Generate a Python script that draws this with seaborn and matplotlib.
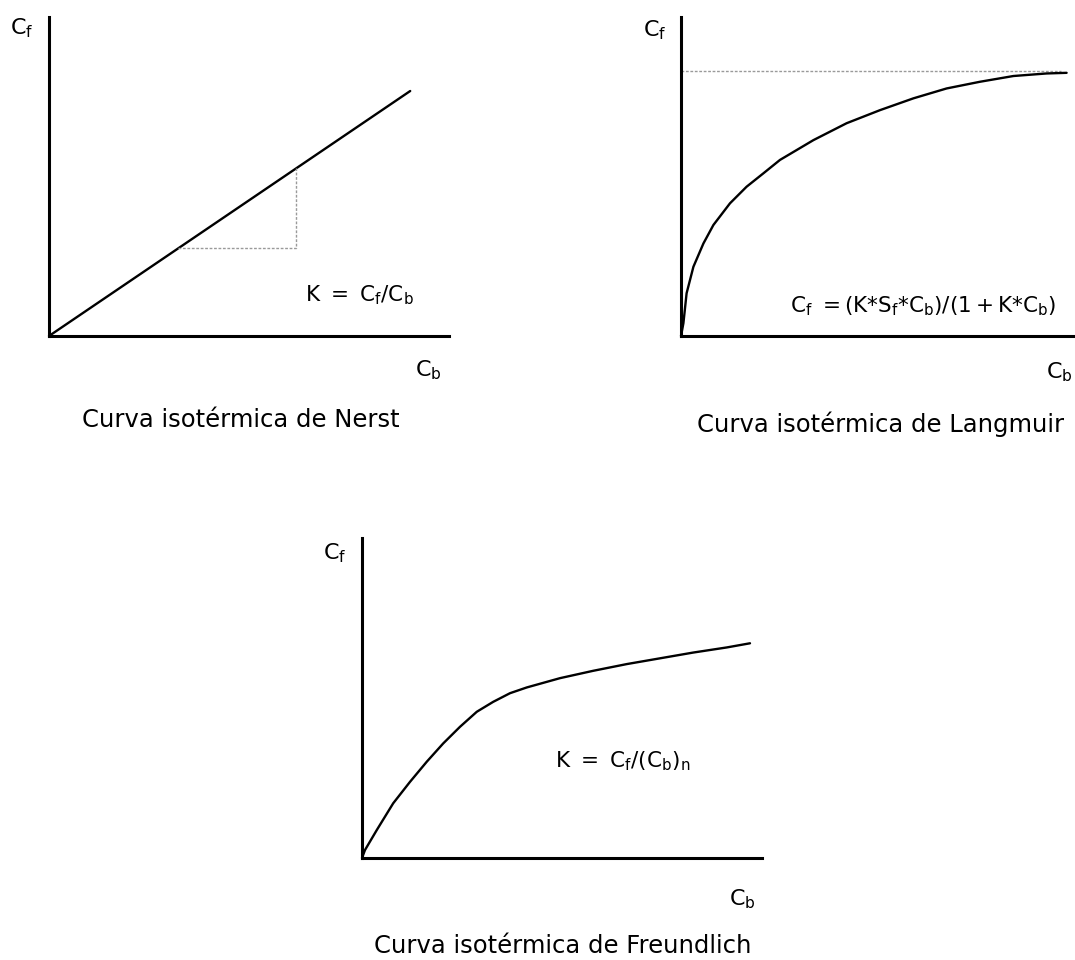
import numpy as np
import pandas as pd
import matplotlib
matplotlib.use('Agg')
import matplotlib.pyplot as plt
import seaborn as sns

# --- data (arbitrary units, 0..100 on each axis) ---
# Nerst: straight line through origin
nerst_cb = [0, 90.3]
nerst_cf = [0, 76.8]
# slope triangle (dotted)
tri_cb = [32.3, 61.8, 61.8]
tri_cf = [27.5, 27.5, 52.7]

# Langmuir: saturating curve
lang_cb = [0, 0.6, 1.4, 3.1, 5.6, 8.1, 12.25, 16.4, 20.6, 24.75, 33.1, 41.4,
           49.75, 58.1, 66.4, 74.75, 83.1, 91.4, 96.4]
lang_cf = [0, 4.0, 13.4, 21.7, 29.0, 34.8, 41.6, 46.8, 51.0, 55.2, 61.4, 66.7,
           70.8, 74.5, 77.6, 79.7, 81.5, 82.3, 82.5]
lang_sat = 83.1
lang_sat_end = 95

# Freundlich
freu_cb = [0, 0.75, 3.7, 7.8, 12.0, 16.2, 20.3, 24.5, 28.7, 32.8, 37.0, 41.2,
           49.5, 57.8, 66.2, 74.5, 82.8, 91.2, 97.0]
freu_cf = [0, 2.5, 8.75, 17.1, 23.8, 30.1, 35.8, 41.0, 45.7, 48.8, 51.5, 53.3,
           56.2, 58.5, 60.6, 62.4, 64.2, 65.8, 67.1]

titles = ['Curva isotérmica de Nerst', 'Curva isotérmica de Langmuir',
          'Curva isotérmica de Freundlich']
eq_nerst = r'$\mathregular{K\ =\ C_f/C_b}$'
eq_lang = r'$\mathregular{C_f\ =(K{*}S_f{*}C_b)/(1+K{*}C_b)}$'
eq_freu = r'$\mathregular{K\ =\ C_f/(C_b)_n}$'
lab_cf = r'$\mathregular{C_f}$'
lab_cb = r'$\mathregular{C_b}$'

sns.set_style('white')
plt.rcParams['font.family'] = ['DejaVu Sans']
plt.rcParams['text.color'] = 'black'

W, H = 1075, 960
fig = plt.figure(figsize=(W / 100, H / 100), dpi=100)


def make_ax(left, top, right, bottom):
    ax = fig.add_axes([left / W, 1 - bottom / H, (right - left) / W, (bottom - top) / H])
    ax.set_xlim(0, 100)
    ax.set_ylim(0, 100)
    sns.despine(ax=ax)
    for s in ['left', 'bottom']:
        ax.spines[s].set_linewidth(2.2)
        ax.spines[s].set_color('black')
    ax.set_xticks([])
    ax.set_yticks([])
    ax.set_xlabel('')
    ax.set_ylabel('')
    return ax


def axis_labels(ax, cf_xy, cb_xy, title_xy, title, title_ha='center', title_size=17.5):
    ax.text(*cf_xy, lab_cf, transform=ax.transAxes, fontsize=16, ha='center', va='center')
    ax.text(*cb_xy, lab_cb, transform=ax.transAxes, fontsize=16, ha='center', va='center')
    ax.text(*title_xy, title, transform=ax.transAxes, fontsize=title_size, ha=title_ha,
            va='baseline')


dot_kw = dict(color='#9a9a9a', lw=1.0, linestyle=(0, (2, 1.2)))
line_kw = dict(color='black', lw=1.7, estimator=None, sort=False, clip_on=False)

# Nerst
ax1 = make_ax(49, 17, 449, 336)
sns.lineplot(x=nerst_cb, y=nerst_cf, ax=ax1, **line_kw)
ax1.plot(tri_cb, tri_cf, **dot_kw)
ax1.text(0.64, 0.107, eq_nerst, transform=ax1.transAxes, fontsize=15.5, va='baseline')
axis_labels(ax1, (-0.0675, 0.966), (0.9475, -0.107), (0.48, -0.285), titles[0])

# Langmuir (axis runs off the right edge, as in the reference)
ax2 = make_ax(681, 17, 1081, 336)
ax2.hlines(lang_sat, 0, lang_sat_end, **dot_kw)
sns.lineplot(x=lang_cb, y=lang_cf, ax=ax2, **line_kw)
ax2.text(0.2725, 0.075, eq_lang, transform=ax2.transAxes, fontsize=15.5, va='baseline')
axis_labels(ax2, (-0.065, 0.96), (0.945, -0.113), (0.04, -0.30), titles[1],
            title_ha='left', title_size=17.5)

# Freundlich
ax3 = make_ax(362, 538, 762, 858)
sns.lineplot(x=freu_cb, y=freu_cf, ax=ax3, **line_kw)
ax3.text(0.4825, 0.284, eq_freu, transform=ax3.transAxes, fontsize=15.5, va='baseline')
axis_labels(ax3, (-0.0675, 0.953), (0.95, -0.128), (0.5025, -0.297), titles[2])

fig.savefig('out.png', dpi=100)
